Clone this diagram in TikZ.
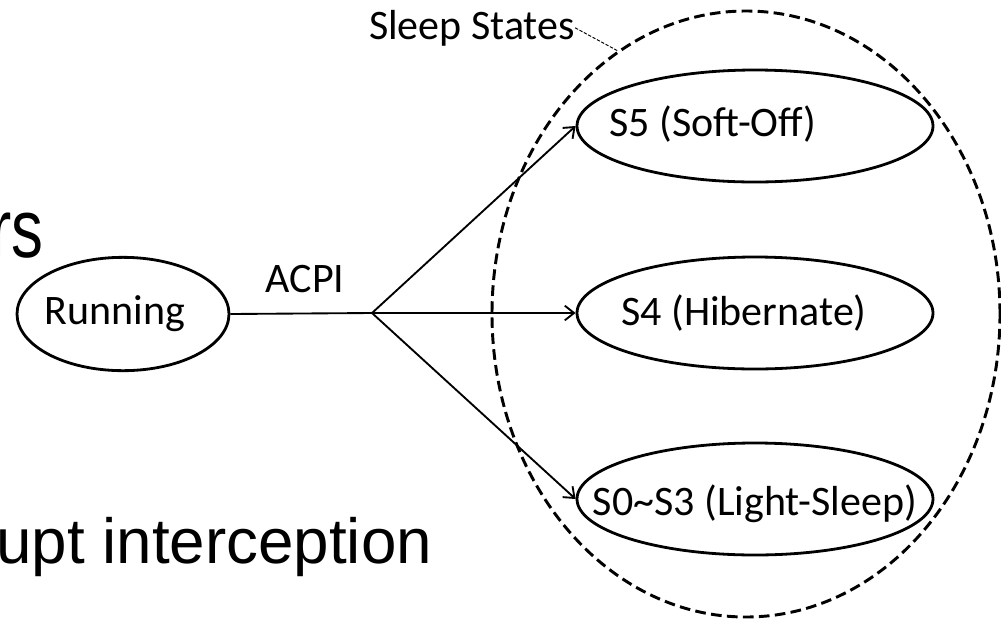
\documentclass[tikz,border=0pt]{standalone}
\usepackage{fontspec}
\setmainfont{Carlito}
\newfontfamily\slidefont{Liberation Sans}
\usetikzlibrary{shapes.geometric,arrows.meta}

\tikzset{
  stateshape/.style={ellipse, draw, line width=2.1pt, inner sep=0pt,
    minimum width=267pt, minimum height=84pt},
  runshape/.style={ellipse, draw, line width=2.1pt, inner sep=0pt,
    minimum width=159pt, minimum height=85pt},
  groupshape/.style={ellipse, draw, line width=2.2pt, inner sep=0pt,
    dash pattern=on 8pt off 4pt,
    minimum width=381pt, minimum height=454.5pt},
  lbl/.style={inner sep=0pt, anchor=base, font=\fontsize{31.5}{38}\selectfont},
  slidetext/.style={inner sep=0pt, font=\slidefont\fontsize{47.8}{57}\selectfont},
  flow/.style={line width=1.4pt, -{Straight Barb[length=7pt,width=11pt]}},
  plain/.style={line width=1.4pt},
  leader/.style={line width=0.7pt, dash pattern=on 2.5pt off 1.2pt},
}

\begin{document}
\begin{tikzpicture}[x=0.75pt, y=-0.75pt]
  % canvas, in pixel units
  \path[use as bounding box, clip] (0,0) rectangle (1001,619);

  % leftover lines of slide text
  \node[slidetext, anchor=base east] (rs) at (44,257) {\scalebox{1}[1.3]{rs}};
  \node[slidetext, anchor=base west] (intercept) at (-4,563) {upt interception};

  % group of sleep states
  \node[groupshape] (sleep) at (746,314) {};
  \node[lbl] (sleeplbl) at (472,39) {Sleep States};
  \draw[leader] (sleeplbl.east) -- (sleep.116);

  % states
  \node[runshape] (run) at (123,314) {};
  \node[lbl] (runlbl) at (115,324) {Running};

  \node[stateshape] (s5) at (755,126) {};
  \node[lbl] (s5lbl) at (713,136) {S5 (Soft-Off)};

  \node[stateshape] (s4) at (755,313) {};
  \node[lbl] (s4lbl) at (744,325) {S4 (Hibernate)};

  \node[stateshape] (s03) at (755,499) {};
  \node[lbl] (s03lbl) at (755,515) {S0\char`\~S3 (Light-Sleep)};

  % transitions
  \coordinate (fork) at (372,313);
  \draw[plain] (run.east) -- (fork);
  \node[lbl] (acpi) at (305,292) {ACPI};
  \draw[flow] (fork) -- (s5.west);
  \draw[flow] (fork) -- (s4.west);
  \draw[flow] (fork) -- (s03.west);
\end{tikzpicture}
\end{document}
